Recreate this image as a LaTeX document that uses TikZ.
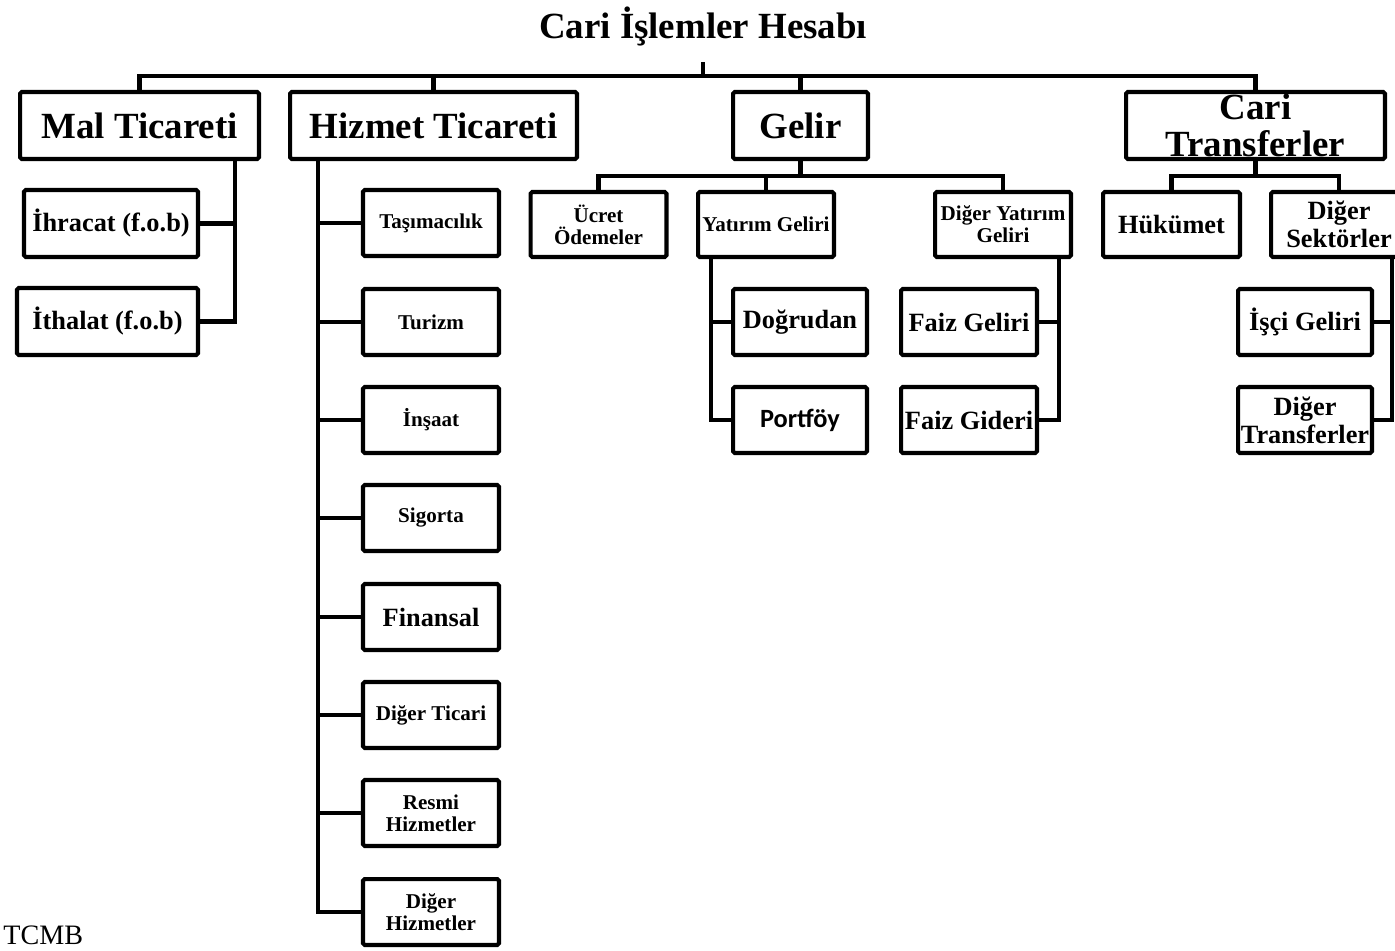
\documentclass[tikz,border=0pt]{standalone}
\usepackage{fontspec}
\setmainfont{Liberation Serif}
\newfontfamily\calibri{Carlito}
\usetikzlibrary{calc}
\tikzset{
  box/.style={draw,line width=2.3pt,rounded corners=1pt,inner sep=1pt,align=center},
  kid/.style={minimum width=2.72cm,minimum height=1.32cm},
  top/.style={minimum height=1.34cm},
  big/.style={font=\fontsize{21}{21}\selectfont\bfseries},
  mid/.style={font=\fontsize{15}{16}\selectfont\bfseries},
  small/.style={font=\fontsize{12}{12.5}\selectfont\bfseries},
  conn/.style={line width=2.4pt}
}

\begin{document}
\begin{tikzpicture}[x=0.02cm,y=-0.02cm]
\useasboundingbox (0,0) rectangle (1395,950);
\node[big,anchor=base] (title) at (703,38) {Cari İşlemler Hesabı};
\coordinate (tfoot) at (703,62);
\coordinate (bus0) at (703,76);
% first level
\node[box,top,big,minimum width=4.78cm] (mal) at (139.5,125.5) {Mal Ticareti};
\node[box,top,big,minimum width=5.74cm] (hizmet) at (433.5,125.5) {Hizmet Ticareti};
\node[box,top,big,minimum width=2.70cm] (gelir) at (800.5,125.5) {Gelir};
\node[box,top,big,minimum width=5.18cm,inner ysep=0pt] (cari) at (1255.5,125.5) {Cari\\Transferler};
\draw[conn] (tfoot) -- (bus0);
\draw[conn] (mal.north) |- (bus0) -| (cari.north);
\draw[conn] (hizmet.north) -- (hizmet.north |- bus0);
\draw[conn] (gelir.north) -- (gelir.north |- bus0);
% mal ticareti
\coordinate (mx) at (235,0);
\node[box,top,mid,minimum width=3.48cm] (ihracat) at (111,223.5) {İhracat (f.o.b)};
\node[box,top,mid,minimum width=3.62cm] (ithalat) at (107.5,321.5) {İthalat (f.o.b)};
\draw[conn] (mal.south -| mx) |- (ithalat.east);
\draw[conn] (ihracat.east) -- (ihracat.east -| mx);
% hizmet ticareti
\coordinate (hx) at (318,0);
\foreach \yy/\nm/\sz/\txt in {223/tas/small/Taşımacılık,322/tur/small/Turizm,420/ins/small/İnşaat,518/sig/small/Sigorta,617/fin/mid/Finansal,715/dtic/small/Diğer Ticari,813/resmi/small/Resmi\\Hizmetler,912/dhiz/small/Diğer\\Hizmetler} {
  \node[box,kid,\sz] (\nm) at (431,\yy) {\txt};
  \draw[conn] (\nm.west) -- (\nm.west -| hx);
}
\draw[conn] (hizmet.south -| hx) |- (dhiz.west);
% gelir
\coordinate (gbus) at (800.5,176);
\node[box,kid,small,minimum height=1.30cm] (ucret) at (598.5,224.5) {Ücret\\Ödemeler};
\node[box,kid,small,minimum height=1.30cm] (yatirim) at (766,224.5) {Yatırım Geliri};
\node[box,kid,small,minimum height=1.30cm] (digeryat) at (1003,224.5) {Diğer Yatırım\\Geliri};
\draw[conn] (gelir.south) -- (gbus);
\draw[conn] (ucret.north) |- (gbus) -| (digeryat.north);
\draw[conn] (yatirim.north) -- (yatirim.north |- gbus);
\coordinate (yx) at (711,0);
\node[box,kid,mid,minimum width=2.68cm] (dogrudan) at (800,322) {Doğrudan};
\node[box,kid,minimum width=2.68cm,font=\fontsize{15}{16}\selectfont\calibri\bfseries] (portfoy) at (800,420) {Portföy};
\draw[conn] (yatirim.south -| yx) |- (portfoy.west);
\draw[conn] (dogrudan.west) -- (dogrudan.west -| yx);
\coordinate (dx) at (1059,0);
\node[box,kid,mid] (faizgel) at (969,322) {Faiz Geliri};
\node[box,kid,mid] (faizgid) at (969,420) {Faiz Gideri};
\draw[conn] (digeryat.south -| dx) |- (faizgid.east);
\draw[conn] (faizgel.east) -- (faizgel.east -| dx);
% cari transferler
\coordinate (cbus) at (1255.5,176);
\node[box,kid,mid,minimum width=2.74cm,minimum height=1.30cm] (hukumet) at (1171.5,224.5) {Hükümet};
\node[box,kid,mid,minimum height=1.30cm] (digersek) at (1339,224.5) {Diğer\\Sektörler};
\draw[conn] (cari.south) -- (cbus);
\draw[conn] (hukumet.north) |- (cbus) -| (digersek.north);
\coordinate (sx) at (1392,0);
\node[box,kid,mid,minimum width=2.68cm] (isci) at (1305,322) {İşçi Geliri};
\node[box,kid,mid,minimum width=2.68cm,inner sep=0pt] (digertr) at (1305,420) {Diğer\\Transferler};
\draw[conn] (digersek.south -| sx) |- (digertr.east);
\draw[conn] (isci.east) -- (isci.east -| sx);
\node[anchor=base west,inner sep=0pt,font=\fontsize{16}{17}\selectfont] (kaynak) at (3,944) {TCMB};
\end{tikzpicture}
\end{document}
